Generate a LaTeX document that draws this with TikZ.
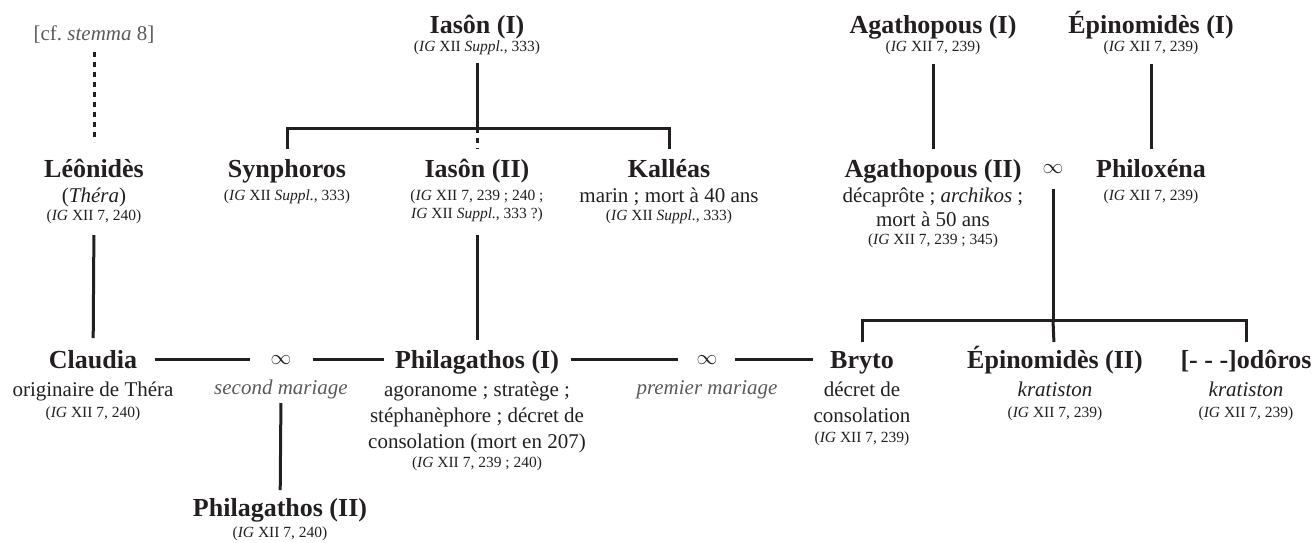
\documentclass[tikz,border=0pt]{standalone}
\usepackage{fontspec}
\setmainfont{Liberation Serif}
\frenchspacing
\definecolor{ink}{HTML}{231F20}
\definecolor{soft}{HTML}{5A5A5A}
\tikzset{
  nm/.style={font=\fontsize{26}{28}\selectfont\bfseries, inner sep=0pt, anchor=base, text=ink, text height=18pt, text depth=0pt},
  ds/.style={font=\fontsize{21}{24}\selectfont, inner sep=0pt, anchor=base, text=ink},
  rf/.style={font=\fontsize{15.5}{18}\selectfont, inner sep=0pt, anchor=base, text=ink},
  grey/.style={text=soft},
  mar/.style={font=\fontsize{22}{24}\selectfont, inner sep=0pt, anchor=base, text=ink, text height=11pt, text depth=0pt},
  ln/.style={draw=ink, line width=3pt},
  dotln/.style={draw=ink, line width=3pt, dash pattern=on 5pt off 5pt}
}
\begin{document}
\begin{tikzpicture}[x=1pt,y=-1pt]
\useasboundingbox (0,0) rectangle (1315,542);

% ---- row 1
\node[ds,grey] (cf) at (94,40) {[cf. \textit{stemma} 8]};
\node[nm] (ia1) at (477,33) {Iasôn (I)};
\node[rf] (ia1r) at (477,51) {(\textit{IG} XII \textit{Suppl.}, 333)};
\node[nm] (ag1) at (933,33) {Agathopous (I)};
\node[rf] (ag1r) at (933,51) {(\textit{IG} XII 7, 239)};
\node[nm] (ep1) at (1151,33) {Épinomidès (I)};
\node[rf] (ep1r) at (1151,51) {(\textit{IG} XII 7, 239)};

% ---- row 2
\node[nm] (leo) at (94,177) {Léônidès};
\node[ds] (leod) at (94,202) {(\textit{Théra})};
\node[rf] (leor) at (94,220) {(\textit{IG} XII 7, 240)};

\node[nm] (syn) at (287,177) {Synphoros};
\node[rf] (synr) at (287,200) {(\textit{IG} XII \textit{Suppl.}, 333)};

\node[nm] (ia2) at (477,177) {Iasôn (II)};
\node[rf] (ia2r) at (477,200) {(\textit{IG} XII 7, 239 ; 240 ;};
\node[rf] (ia2s) at (477,218) {\textit{IG} XII \textit{Suppl.}, 333 ?)};

\node[nm] (kal) at (669,177) {Kalléas};
\node[ds] (kald) at (669,202) {marin ; mort à 40 ans};
\node[rf] (kalr) at (669,220) {(\textit{IG} XII \textit{Suppl.}, 333)};

\node[nm] (ag2) at (933,177) {Agathopous (II)};
\node[ds] (ag2d) at (933,202) {décaprôte ; \textit{archikos} ;};
\node[ds] (ag2e) at (933,226) {mort à 50 ans};
\node[rf] (ag2r) at (933,244) {(\textit{IG} XII 7, 239 ; 345)};

\node[mar] (mar1) at (1053,173.5) {$\infty$};

\node[nm] (phx) at (1151,177) {Philoxéna};
\node[rf] (phxr) at (1151,200) {(\textit{IG} XII 7, 239)};

% ---- row 3
\node[nm] (cla) at (93,368) {Claudia};
\node[ds] (clad) at (93,396) {originaire de Théra};
\node[rf] (clar) at (93,417) {(\textit{IG} XII 7, 240)};

\node[mar] (m2) at (281,364.5) {$\infty$};
\node[ds,grey] (sm) at (281,394) {\textit{second mariage}};

\node[nm] (phi1) at (477,368) {Philagathos (I)};
\node[ds] (phi1a) at (477,396) {agoranome ; stratège ;};
\node[ds] (phi1b) at (477,422) {stéphanèphore ; décret de};
\node[ds] (phi1c) at (477,448) {consolation (mort en 207)};
\node[rf] (phi1r) at (477,467) {(\textit{IG} XII 7, 239 ; 240)};

\node[mar] (m1) at (707,364.5) {$\infty$};
\node[ds,grey] (pm) at (707,394) {\textit{premier mariage}};

\node[nm] (bry) at (862,368) {Bryto};
\node[ds] (brya) at (862,396) {décret de};
\node[ds] (bryb) at (862,422) {consolation};
\node[rf] (bryr) at (862,442) {(\textit{IG} XII 7, 239)};

\node[nm] (ep2) at (1055,368) {Épinomidès (II)};
\node[ds] (ep2d) at (1055,396) {\textit{kratiston}};
\node[rf] (ep2r) at (1055,417) {(\textit{IG} XII 7, 239)};

\node[nm] (odo) at (1246,368) {[- - -]odôros};
\node[ds] (odod) at (1246,396) {\textit{kratiston}};
\node[rf] (odor) at (1246,417) {(\textit{IG} XII 7, 239)};

% ---- row 4
\node[nm] (ph2) at (280,516) {Philagathos (II)};
\node[rf] (ph2r) at (280,537) {(\textit{IG} XII 7, 240)};

% ---- junctions
\coordinate (b1) at (477,128);
\coordinate (b2) at (1053,320);

% ---- connectors
\draw[dotln, shorten <=12pt, shorten >=35pt] (cf.base) -- (leo.base);
\draw[ln, shorten <=12pt] (ia1r.base) -- (b1);
\draw[ln, shorten <=28pt, shorten >=28pt] (syn.base) |- (b1) -| (kal.base);
\draw[dotln, shorten >=28pt] (b1) -- (ia2.base);
\draw[ln, shorten <=17pt, shorten >=28pt] (ia2s.base) -- (phi1.base);
\draw[ln, shorten <=15pt, shorten >=30pt] (leor.base) -- (cla.base);
\draw[ln, shorten <=13pt, shorten >=28pt] (ag1r.base) -- (ag2.base);
\draw[ln, shorten <=13pt, shorten >=28pt] (ep1r.base) -- (phx.base);
\draw[ln, shorten <=15pt] (mar1.base) -- (b2);
\draw[ln, shorten <=26pt, shorten >=26pt] (bry.base) |- (b2) -| (odo.base);
\draw[ln, shorten >=26pt] (b2) -- (ep2.base);

\draw[ln, shorten <=18pt, shorten >=20pt] (cla.east) -- (m2.west);
\draw[ln, shorten <=21pt, shorten >=11pt] (m2.east) -- (phi1.west);
\draw[ln, shorten <=12pt, shorten >=18pt] (phi1.east) -- (m1.west);
\draw[ln, shorten <=17pt, shorten >=17pt] (m1.east) -- (bry.west);
\draw[ln, shorten <=9pt, shorten >=26pt] (sm.base) -- (ph2.base);
\end{tikzpicture}
\end{document}
